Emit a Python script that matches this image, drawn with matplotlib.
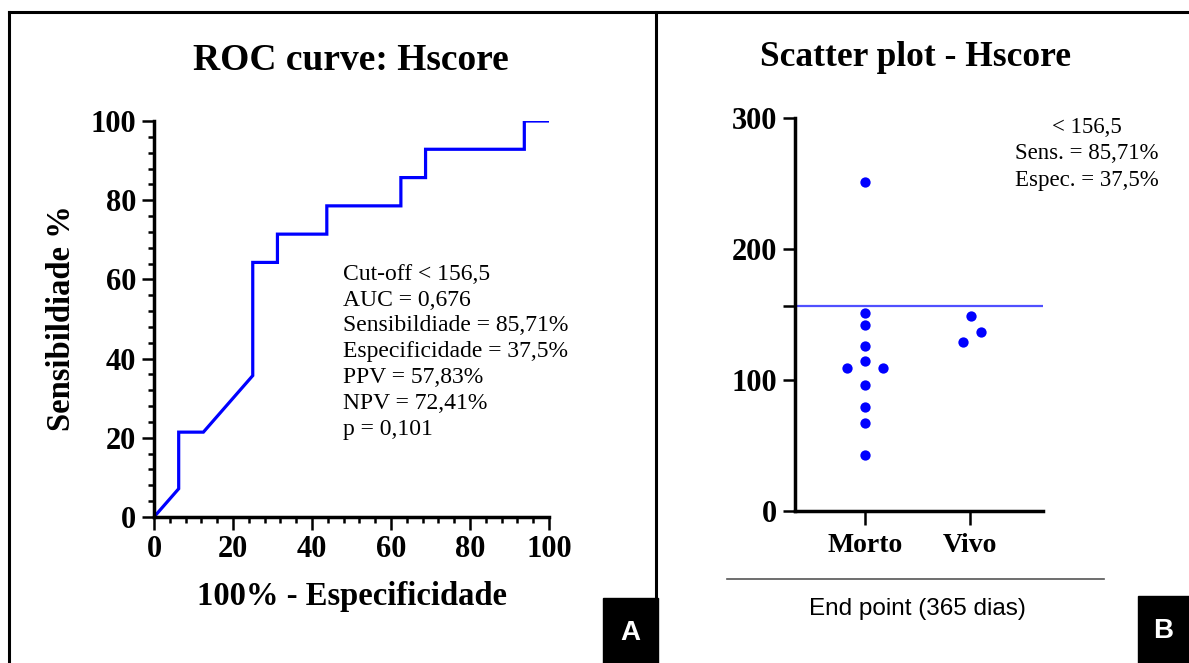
import matplotlib
matplotlib.use("Agg")
import matplotlib.pyplot as plt
from matplotlib.lines import Line2D
from matplotlib.patches import Rectangle

# ROC curve (Hscore), steps
fpr = [0, 6.25, 6.25, 12.5, 25, 25, 31.25, 31.25, 43.75, 43.75, 62.5, 62.5,
       68.75, 68.75, 93.75, 93.75, 100]
sens = [0, 7.14, 21.43, 21.43, 35.71, 64.29, 64.29, 71.43, 71.43, 78.57, 78.57,
        85.71, 85.71, 92.86, 92.86, 100, 100]

roc_text = ("Cut-off < 156,5\nAUC = 0,676\nSensibildiade = 85,71%\n"
            "Especificidade = 37,5%\nPPV = 57,83%\nNPV = 72,41%\np = 0,101")

# scatter plot - Hscore
groups = ["Morto", "Vivo"]
morto = [251, 151.5, 142, 126, 114.5, 109.5, 109.5, 96, 79.5, 67.5, 42.5]
morto_jit = [0, 0, 0, 0, 0, -0.175, 0.175, 0, 0, 0, 0]
vivo = [149, 136.5, 129]
vivo_jit = [0.01, 0.10, -0.07]
cutoff = 156.5
scat_text = "< 156,5\nSens. = 85,71%\nEspec. = 37,5%"

W, H = 1189, 663
serif = "Liberation Serif"
sans = "Liberation Sans"
blue = "#0000ff"


def fx(px):
    return px / W


def fy(py):
    return 1 - py / H


fig = plt.figure(figsize=(W / 100, H / 100), dpi=100)
fig.patch.set_facecolor("white")

# --- ROC ---
ax1 = fig.add_axes([fx(154), fy(517), 395 / W, 396 / H])
ax1.plot(fpr, sens, color=blue, lw=2.3, solid_joinstyle="miter")
ax1.set_xlim(0, 100)
ax1.set_ylim(0, 100)
ax1.set_xticks(range(0, 101, 20))
ax1.set_yticks(range(0, 101, 20))
ax1.set_xticks(range(0, 101, 4), minor=True)
ax1.set_yticks(range(0, 101, 4), minor=True)
for s in ["top", "right"]:
    ax1.spines[s].set_visible(False)
for s in ["left", "bottom"]:
    ax1.spines[s].set_linewidth(2.5)
ax1.tick_params(which="major", length=9, width=1.8, pad=4)
ax1.tick_params(which="minor", length=4.5, width=1.8)
for lab in ax1.get_xticklabels() + ax1.get_yticklabels():
    lab.set_fontfamily(serif)
    lab.set_fontweight("bold")
    lab.set_fontsize(22)
ax1.text(0.478, 0.64, roc_text, transform=ax1.transAxes, family=serif,
         fontsize=17, va="top", ha="left", linespacing=1.31)

fig.text(fx(351), fy(60), "ROC curve: Hscore", family=serif, weight="bold",
         fontsize=27, ha="center", va="center")
fig.text(fx(352), fy(596), "100% - Especificidade", family=serif, weight="bold",
         fontsize=23.5, ha="center", va="center")
fig.text(fx(62), fy(318), "Sensibildiade %", family=serif, weight="bold",
         fontsize=23.5, ha="center", va="center", rotation=90)

# --- scatter ---
ax2 = fig.add_axes([fx(795), fy(511), 248 / W, 393 / H])
ax2.axhline(cutoff, color="#5050ff", lw=1.6, zorder=1)
ax2.scatter([1 + j for j in morto_jit], morto, s=55, color=blue, zorder=3,
            linewidths=0)
ax2.scatter([2 + j for j in vivo_jit], vivo, s=55, color=blue, zorder=3,
            linewidths=0)
ax2.set_xlim(0.333, 2.695)
ax2.set_ylim(0, 300)
ax2.set_xticks([1, 2])
ax2.set_xticklabels(groups)
ax2.set_yticks([0, 100, cutoff, 200, 300])
ax2.set_yticklabels(["0", "100", "", "200", "300"])
for s in ["top", "right"]:
    ax2.spines[s].set_visible(False)
for s in ["left", "bottom"]:
    ax2.spines[s].set_linewidth(2.5)
ax2.tick_params(axis="y", length=9, width=1.8, pad=4)
ax2.tick_params(axis="x", length=10, width=1.8, pad=6)
for lab in ax2.get_yticklabels():
    lab.set_fontfamily(serif)
    lab.set_fontweight("bold")
    lab.set_fontsize(22)
for lab in ax2.get_xticklabels():
    lab.set_fontfamily(serif)
    lab.set_fontweight("bold")
    lab.set_fontsize(20)
fig.text(fx(1087), fy(117), scat_text, family=serif, fontsize=16.5,
         ha="center", va="top", multialignment="center", linespacing=1.34)

fig.text(fx(916), fy(58), "Scatter plot - Hscore", family=serif, weight="bold",
         fontsize=25.5, ha="center", va="center")
fig.add_artist(Line2D([fx(727), fx(1104)], [fy(579), fy(579)], color="#555555",
                      lw=1.2))
fig.text(fx(917), fy(609), "End point (365 dias)", family=sans, fontsize=17.5,
         ha="center", va="center")

# --- frame and panel letters ---
for xs, ys in [([9, 1189], [12, 12]), ([9, 9], [12, 663]), ([656, 656], [12, 663])]:
    fig.add_artist(Line2D([fx(x) for x in xs], [fy(y) for y in ys],
                          color="black", lw=2.2))
for x0, x1, y0, letter in [(603, 658, 598, "A"), (1138, 1189, 596, "B")]:
    fig.add_artist(Rectangle((fx(x0), fy(663)), (x1 - x0) / W, (663 - y0) / H,
                             transform=fig.transFigure, color="black"))
    fig.text(fx((x0 + x1) / 2), fy((y0 + 663) / 2 + 2), letter, family=sans,
             weight="bold", color="white", fontsize=20, ha="center", va="center")

fig.savefig("out.png", dpi=100)
